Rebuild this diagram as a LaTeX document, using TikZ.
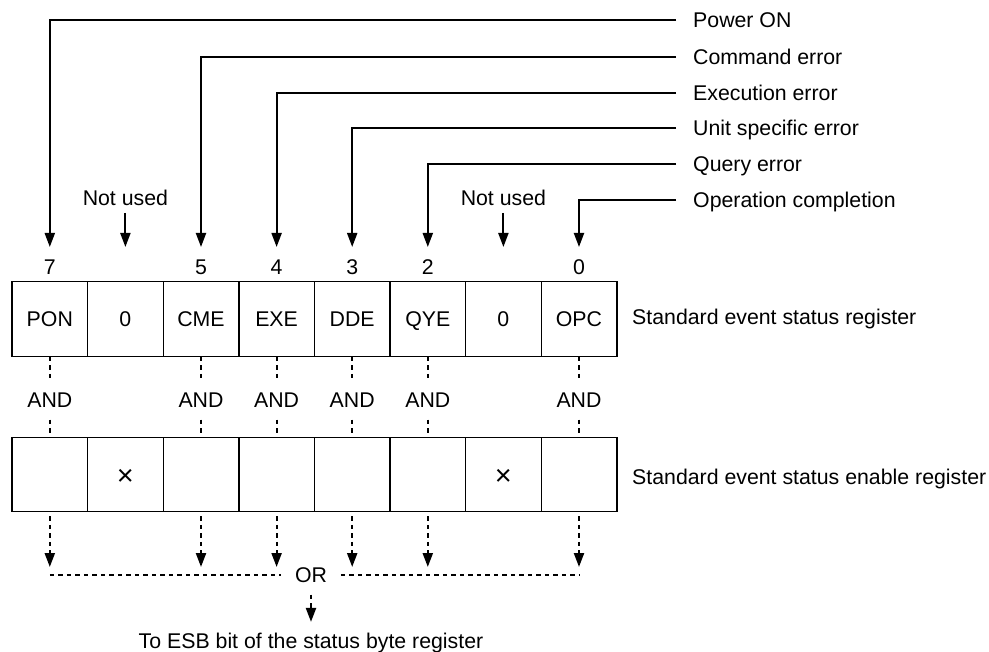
\documentclass[tikz,border=0pt]{standalone}
\usepackage{fontspec}
\setmainfont{Liberation Sans}
\usetikzlibrary{arrows.meta}
\newcommand{\maskbit}{\raisebox{-3pt}{\fontsize{29}{30}\selectfont ×}}
\begin{document}
\begin{tikzpicture}[x=1pt,y=-1pt,
  txt/.style={font=\fontsize{21.3}{25}\selectfont, inner sep=0pt, text height=15.2pt, text depth=0pt},
  cell/.style={txt, draw, line width=1.4pt, minimum width=75.6pt, minimum height=74.5pt},
  tip/.style={-{Triangle[width=10pt,length=14pt]}},
  feed/.style={tip, line width=2pt},
  dots/.style={line width=2.2pt, dash pattern=on 4.5pt off 4pt},
  dotarrow/.style={dots, tip},
]
\useasboundingbox (0,0) rectangle (989,652);

% standard event status register
\foreach \t [count=\i] in {PON,0,CME,EXE,DDE,QYE,0,OPC}
  \node[cell] (r\i) at ({12+75.6*(\i-0.5)},319) {\t};

% standard event status enable register
\foreach \t [count=\i] in {{},\maskbit,{},{},{},{},\maskbit,{}}
  \node[cell] (e\i) at ({12+75.6*(\i-0.5)},474.5) {\t};

\node[txt, anchor=west] (lab1) at (632,317) {Standard event status register};
\node[txt, anchor=west] (lab2) at (632,476.5) {Standard event status enable register};

% bit numbers
\foreach \n/\i in {7/1,5/3,4/4,3/5,2/6,0/8}
  \node[txt] (bit\i) at ({12+75.6*(\i-0.5)},267) {\n};

% arrow tips above the register and join points on the OR line
\foreach \i in {1,...,8} {
  \coordinate (in\i) at ({12+75.6*(\i-0.5)},247);
  \coordinate (o\i) at ({12+75.6*(\i-0.5)},575);
}

% event sources
\foreach \t/\y/\i in {Power ON/20/1, Command error/57/3, Execution error/93/4,
                      Unit specific error/128/5, Query error/164/6,
                      Operation completion/200/8} {
  \node[txt, anchor=west] (src\i) at (693,\y) {\t};
  \draw[feed] ([xshift=-17pt]src\i.west) -| (in\i);
}

% unused bits
\foreach \i in {2,7} {
  \node[txt] (nu\i) at ({12+75.6*(\i-0.5)},198) {Not used};
  \draw[feed] ([yshift=-7pt]nu\i.south) -- (in\i);
}

% AND links between the two registers and arrows to the OR line
\foreach \i in {1,3,4,5,6,8} {
  \node[txt, outer ysep=12pt] (and\i) at ({12+75.6*(\i-0.5)},400) {AND};
  \draw[dots] (r\i.south) -- (and\i.north);
  \draw[dots] (and\i.south) -- (e\i.north);
  \draw[dotarrow, shorten >=8pt] ([yshift=-4pt]e\i.south) -- (o\i);
}

% OR summary
\node[txt, outer xsep=14pt, outer ysep=12pt] (or) at (311,575) {OR};
\draw[dots] (o1) -- (or.west);
\draw[dots] (or.east) -- (o8);
\node[txt, outer ysep=11.5pt] (esb) at (311,641) {To ESB bit of the status byte register};
\draw[dotarrow] (or.south) -- (esb.north);
\end{tikzpicture}
\end{document}
